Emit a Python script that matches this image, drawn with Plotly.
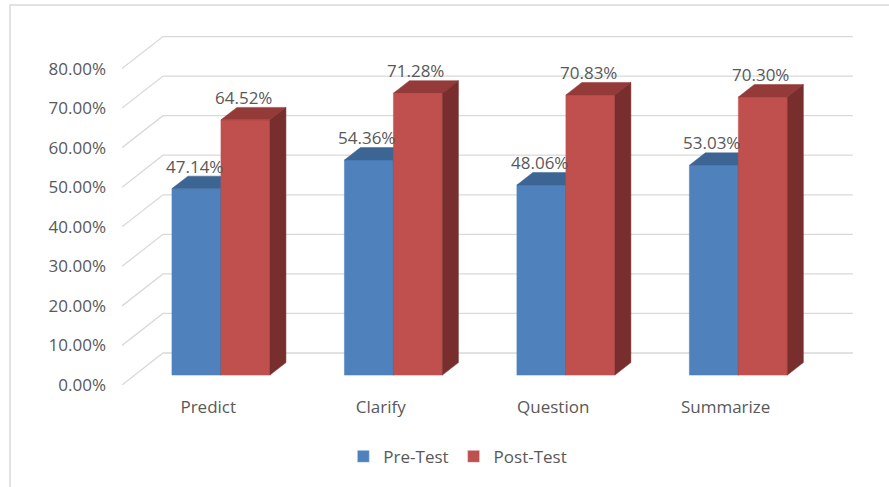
import plotly.graph_objects as go

# ---- data ----
categories = ["Predict", "Clarify", "Question", "Summarize"]
pre_test = [47.14, 54.36, 48.06, 53.03]
post_test = [64.52, 71.28, 70.83, 70.30]
series_names = ["Pre-Test", "Post-Test"]
y_ticks = [0, 10, 20, 30, 40, 50, 60, 70, 80]
y_tick_labels = [f"{v:.2f}%" for v in y_ticks]

# ---- style / geometry constants ----
W, H = 889, 487
ML, MR, MT, MB = 122, 34, 29, 102
X_RANGE = [-0.5, 3.75]
Y_RANGE = [0, 90]
px_x = (W - ML - MR) / (X_RANGE[1] - X_RANGE[0])
px_y = (H - MT - MB) / (Y_RANGE[1] - Y_RANGE[0])
DEPTH_PX_X, DEPTH_PX_Y = 41, 32          # full floor depth in pixels
DX = DEPTH_PX_X / px_x                   # in x units
DY = DEPTH_PX_Y / px_y                   # in y units
D_FRONT, D_BACK = 0.31, 0.70             # bar depth fractions
BAR_W = 49 / px_x

colors = {
    "Pre-Test": dict(front="#4F81BD", top="#3C6594", side="#2F5077"),
    "Post-Test": dict(front="#C0504D", top="#943B39", side="#772E2C"),
}
GRID = "#D9D9D9"
TXT = "#595959"
FONT = "Open Sans"

fig = go.Figure()

# gridlines: back wall + left wall diagonals
gx, gy = [], []
x_left, x_right = X_RANGE[0], -0.5 + len(categories)
for v in y_ticks:
    gx += [x_left, x_left + DX, x_right + DX, None]
    gy += [v, v + DY, v + DY, None]
fig.add_trace(go.Scatter(x=gx, y=gy, mode="lines", line=dict(color=GRID, width=1.3),
                         hoverinfo="skip", showlegend=False))

annotations = []
for i, cat in enumerate(categories):
    for s, (name, vals) in enumerate(zip(series_names, [pre_test, post_test])):
        v = vals[i]
        c = colors[name]
        x0 = i - BAR_W + s * BAR_W + D_FRONT * DX
        x1 = x0 + BAR_W
        yb = D_FRONT * DY
        yt = v + D_FRONT * DY
        ddx = (D_BACK - D_FRONT) * DX
        ddy = (D_BACK - D_FRONT) * DY
        # front face
        fig.add_trace(go.Scatter(x=[x0, x1, x1, x0, x0], y=[yb, yb, yt, yt, yb],
                                 fill="toself", fillcolor=c["front"], mode="lines",
                                 line=dict(color=c["front"], width=0.5),
                                 hoverinfo="skip", showlegend=False))
        # top face
        fig.add_trace(go.Scatter(x=[x0, x1, x1 + ddx, x0 + ddx, x0],
                                 y=[yt, yt, yt + ddy, yt + ddy, yt],
                                 fill="toself", fillcolor=c["top"], mode="lines",
                                 line=dict(color=c["top"], width=0.5),
                                 hoverinfo="skip", showlegend=False))
        # side face
        fig.add_trace(go.Scatter(x=[x1, x1 + ddx, x1 + ddx, x1, x1],
                                 y=[yb, yb + ddy, yt + ddy, yt, yb],
                                 fill="toself", fillcolor=c["side"], mode="lines",
                                 line=dict(color=c["side"], width=0.5),
                                 hoverinfo="skip", showlegend=False))
        annotations.append(dict(x=(x0 + x1) / 2, y=v + D_BACK * DY, xref="x", yref="y",
                                text=f"{v:.2f}%", showarrow=False, yanchor="middle",
                                yshift=10, xshift=-2,
                                font=dict(family=FONT, size=17, color=TXT)))

# legend entries
for name in series_names:
    fig.add_trace(go.Bar(x=[None], y=[None], name=name,
                         marker_color=colors[name]["front"]))

fig.update_layout(
    width=W, height=H,
    margin=dict(l=ML, r=MR, t=MT, b=MB, pad=0, autoexpand=False),
    paper_bgcolor="white", plot_bgcolor="white",
    font=dict(family=FONT, size=17, color=TXT),
    annotations=annotations,
    showlegend=True,
    legend=dict(orientation="h", xref="container", yref="container",
                x=0.515, y=0.062, xanchor="center", yanchor="middle",
                font=dict(family=FONT, size=17, color=TXT)),
    xaxis=dict(type="linear", range=X_RANGE, tickvals=list(range(len(categories))),
               ticktext=categories, showgrid=False, zeroline=False, showline=False,
               ticks="", ticklabelstandoff=10, fixedrange=True, automargin=False),
    yaxis=dict(range=Y_RANGE, tickvals=y_ticks, ticktext=y_tick_labels,
               showgrid=False, zeroline=False, showline=False, ticks="",
               ticklabelstandoff=15, fixedrange=True, automargin=False),
    shapes=[dict(type="rect", xref="paper", yref="paper",
                 x0=(10 - ML) / (W - ML - MR), x1=(900 - ML) / (W - ML - MR),
                 y0=(H - MB - 500) / (H - MT - MB), y1=(H - MB - 5) / (H - MT - MB),
                 line=dict(color=GRID, width=1.5), fillcolor="rgba(0,0,0,0)",
                 layer="below")],
)

fig.write_html("out.html", config={"displayModeBar": False},
               post_script="document.body.style.margin='0';document.body.style.overflow='hidden';")
